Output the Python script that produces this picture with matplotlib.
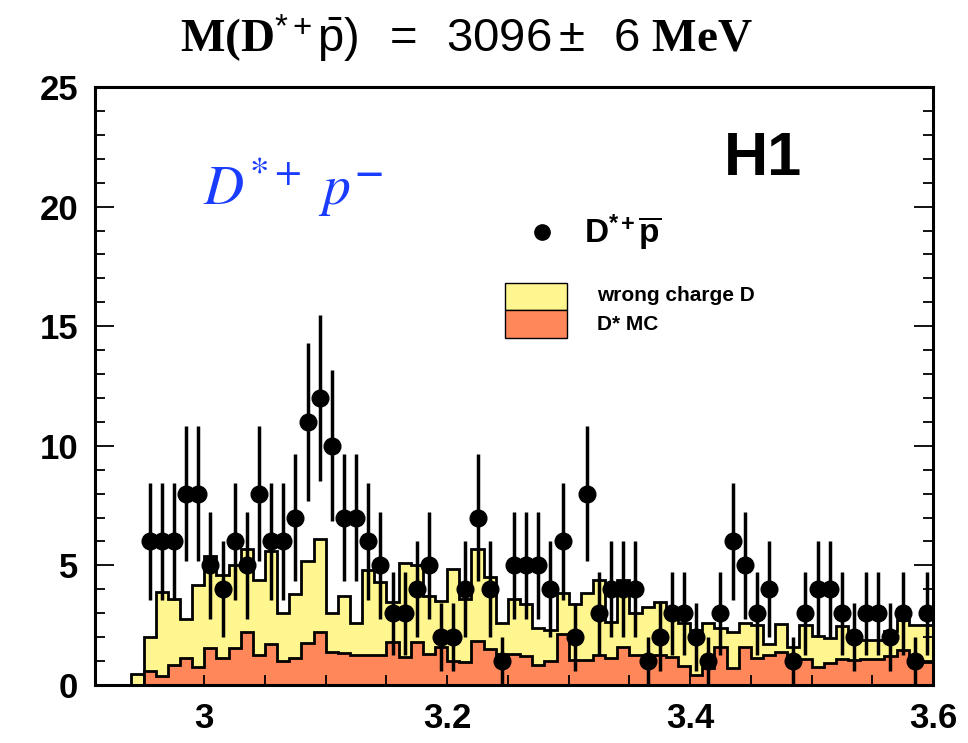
import numpy as np
import matplotlib.pyplot as plt
from matplotlib.ticker import MultipleLocator, FuncFormatter

# custom math fonts: serif bold for M, D, MeV; sans for digits; bold sans for legend
plt.rcParams['mathtext.fontset'] = 'custom'
plt.rcParams['mathtext.rm'] = 'Liberation Sans'
plt.rcParams['mathtext.bf'] = 'Liberation Serif:bold'
plt.rcParams['mathtext.sf'] = 'Liberation Sans:bold'
plt.rcParams['mathtext.it'] = 'Liberation Serif:italic'

# bin edges: 0.01 GeV bins from 2.91 to 3.60
edges = np.round(np.arange(2.91, 3.6001, 0.01), 3)

# wrong charge D background (outer, yellow)
wrong_charge = [0, 0, 0, 0.45,
                2.0, 3.9, 3.6, 2.75, 4.2,
                5.4, 4.6, 5.0, 5.7, 4.4,
                5.6, 3.0, 3.8, 5.2, 6.1,
                3.0, 3.7, 2.6, 4.8, 4.3,
                3.45, 5.1, 5.0, 3.7, 3.5,
                4.85, 3.6, 5.7, 4.5, 2.6,
                3.6, 3.4, 2.4, 2.3, 3.85,
                3.4, 3.85, 4.4, 2.65, 4.4,
                3.0, 3.25, 3.45, 3.0, 2.6,
                2.3, 2.6, 2.4, 2.2, 2.6,
                2.5, 1.7, 2.55, 1.6, 2.5,
                2.05, 1.95, 2.45, 2.15, 1.9,
                1.9, 2.25, 2.7, 2.5, 2.5]

# D* MC (orange)
dstar_mc = [0, 0, 0, 0,
            0.6, 0.38, 0.84, 1.12, 0.74,
            1.56, 1.12, 1.56, 2.2, 1.24,
            1.72, 1.02, 1.12, 1.74, 2.2,
            1.39, 1.33, 1.24, 1.24, 1.24,
            1.81, 1.15, 1.8, 1.3, 1.6,
            1.0, 0.95, 1.85, 1.5, 1.3,
            1.3, 1.2, 0.85, 1.0, 2.15,
            1.05, 1.05, 1.26, 1.12, 1.58,
            1.26, 1.0, 1.26, 1.19, 0.8,
            0.42, 0.7, 1.58, 0.7, 1.58,
            1.12, 1.26, 1.4, 1.1, 1.1,
            0.76, 0.9, 1.1, 1.05, 1.1,
            1.1, 1.2, 1.46, 0.83, 0.98]

# D*+ pbar data, bin centres 2.955 ... 3.595
data_x = np.round(np.arange(2.955, 3.6, 0.01), 3)
data_n = [6, 6, 6, 8, 8, 5, 4, 6, 5, 8,
          6, 6, 7, 11, 12, 10, 7, 7, 6, 5,
          3, 3, 4, 5, 2, 2, 4, 7, 4, 1,
          5, 5, 5, 4, 6, 2, 8, 3, 4, 4,
          4, 1, 2, 3, 3, 2, 1, 3, 6, 5,
          3, 4, 0, 1, 3, 4, 4, 3, 2, 3,
          3, 2, 3, 1, 3]

yellow = '#fff68f'
orange = '#ff875a'

fig = plt.figure(figsize=(9.68, 7.43), dpi=100)
ax = fig.add_axes([95/968, 58/743, 838/968, 598/743])

ax.stairs(wrong_charge, edges, fill=True, color=yellow)
ax.stairs(wrong_charge, edges, color='black', linewidth=2)
ax.stairs(dstar_mc, edges, fill=True, color=orange)
ax.stairs(dstar_mc, edges, color='black', linewidth=2)

n = np.array(data_n, dtype=float)
mask = n > 0
ax.errorbar(data_x[mask], n[mask], yerr=np.sqrt(n[mask]), fmt='o', color='black',
            markersize=12, elinewidth=2.5, capsize=0, zorder=5)

ax.set_xlim(2.91, 3.6)
ax.set_ylim(0, 25)

ax.xaxis.set_major_locator(MultipleLocator(0.2))
ax.xaxis.set_minor_locator(MultipleLocator(0.05))
ax.yaxis.set_major_locator(MultipleLocator(5))
ax.yaxis.set_minor_locator(MultipleLocator(1))
ax.xaxis.set_major_formatter(FuncFormatter(lambda v, p: f'{v:g}'))
ax.tick_params(which='both', direction='in', right=True, top=False)
ax.tick_params(which='major', length=14, width=1.3, labelsize=25, pad=12)
ax.tick_params(which='minor', length=7, width=1.3)
ax.tick_params(axis='x', which='both', length=7)
for lab in ax.get_xticklabels() + ax.get_yticklabels():
    lab.set_fontweight('bold')
    lab.set_fontfamily('Liberation Sans')
for s in ax.spines.values():
    s.set_linewidth(2.2)

# title
fig.text(0.482, 0.948, r'$\mathbf{M(D}^{*+}\bar{\mathrm{p}})\ \ =\ \ 3096\pm\ \ 6\ \mathbf{MeV}$',
         ha='center', va='center', fontsize=34)

# labels inside the plot
fig.text(0.788, 0.785, 'H1', ha='center', va='center', fontsize=44,
         fontweight='bold', family='Liberation Sans')
fig.text(0.21, 0.748, r'$D^{*+}\ p^{\mathbf{-}}$', ha='left', va='center',
         fontsize=40, color='#1a3cff', math_fontfamily='stix')

# legend
ax.plot([3.2778], [18.95], 'o', color='black', markersize=11, clip_on=False)
fig.text(0.603, 0.688, r'$\mathsf{D}^{\mathsf{*+}}\overline{\mathsf{p}}$', ha='left',
         va='center', fontsize=24)
ax.bar(3.2728, 1.13, width=0.0512, bottom=15.69, color=yellow, edgecolor='black', linewidth=1)
ax.bar(3.2728, 1.17, width=0.0512, bottom=14.52, color=orange, edgecolor='black', linewidth=1)
fig.text(0.617, 0.602, 'wrong charge D', ha='left', va='center', fontsize=15,
         fontweight='bold', family='Liberation Sans')
fig.text(0.617, 0.563, 'D* MC', ha='left', va='center', fontsize=15,
         fontweight='bold', family='Liberation Sans')

fig.savefig('out.png', dpi=100)
